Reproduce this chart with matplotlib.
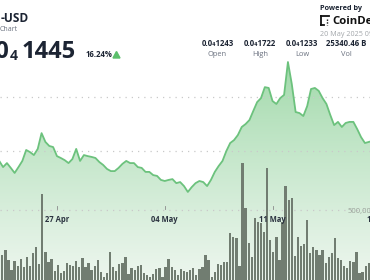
import numpy as np
import pandas as pd
import matplotlib
matplotlib.use("Agg")
import matplotlib.pyplot as plt
import matplotlib.dates as mdates
from matplotlib.lines import Line2D

# ============================
# SHIB-USD price chart (cropped CoinDesk card)
# ============================

plt.rcParams["font.family"] = ["Open Sans", "DejaVu Sans"]

# price, 6h steps, in units of 1e-8 USD (0.0₄1361 -> 1361)
price_e8 = [
    1361, 1338, 1353, 1335, 1316, 1338, 1361, 1402, 1394, 1383,
    1406, 1465, 1432, 1417, 1413, 1379, 1372, 1364, 1353, 1368,
    1406, 1361, 1383, 1379, 1376, 1372, 1357, 1346, 1331, 1323,
    1323, 1335, 1350, 1361, 1353, 1353, 1338, 1335, 1320, 1320,
    1308, 1305, 1290, 1286, 1290, 1293, 1278, 1282, 1267, 1245,
    1263, 1278, 1286, 1282, 1267, 1290, 1320, 1342, 1361, 1398,
    1428, 1439, 1458, 1488, 1499, 1514, 1548, 1581, 1596, 1637,
    1634, 1585, 1574, 1596, 1608, 1731, 1649, 1544, 1540, 1529,
    1566, 1630, 1634, 1623, 1596, 1574, 1533, 1495, 1507, 1488,
    1503, 1507, 1507, 1480, 1450, 1428, 1432, 1436,
]

# volume bars, in thousands
volume_k = [
    179, 214, 143, 71, 136, 100, 150, 93, 164, 100,
    193, 236, 114, 614, 200, 129, 150, 64, 107, 50,
    64, 121, 107, 100, 136, 93, 157, 93, 121, 71,
    100, 143, 57, 21, 50, 200, 93, 64, 114, 121,
    164, 43, 86, 71, 100, 107, 50, 36, 21, 43,
    79, 86, 21, 93, 150, 93, 71, 36, 79, 64,
    57, 71, 86, 36, 79, 93, 179, 143, 21, 57,
    114, 107, 129, 129, 336, 307, 300, 100, 836, 514,
    264, 164, 443, 414, 407, 343, 800, 286, 200, 307,
    143, 414, 671, 571, 586, 171, 307, 243, 257, 429,
    193, 236, 214, 179, 214, 121, 164, 193, 300, 157,
    143, 100, 86, 136, 129, 200, 50, 57, 100, 121,
]

date_labels = ["27 Apr", "04 May", "11 May", "18 May"]
date_ticks = pd.to_datetime(["2025-04-27", "2025-05-04", "2025-05-11", "2025-05-18"])

stat_values = ["0.0\u20841243", "0.0\u20841722", "0.0\u20841233", "25340.46 B"]
stat_names = ["Open", "High", "Low", "Vol"]

price_t = pd.date_range("2025-04-23 06:00", periods=len(price_e8), freq="6h")
vol_t = pd.date_range("2025-04-23 10:48", periods=len(volume_k), freq="288min")

W, H = 370, 280
fig = plt.figure(figsize=(W / 100, H / 100), dpi=100)
ax = fig.add_axes([0, 0, 1, 1])
ax2 = ax.twinx()

x0 = mdates.date2num(pd.Timestamp("2025-04-27"))
ymin, ymax = 915.7, 1962.9
for a in (ax, ax2):
    a.axis("off")

px = mdates.date2num(price_t)
py = np.array(price_e8, dtype=float)

# gradient area under the line
grad = np.linspace(0, 1, 256) ** 0.8
top = np.array([0.60, 0.84, 0.64])
bot = np.array([0.93, 0.965, 0.935])
rgb = top[None, :] * (1 - grad[:, None]) + bot[None, :] * grad[:, None]
img = rgb[:, None, :]
im = ax.imshow(img, extent=[px[0], px[-1], ymin, 1760], origin="upper",
               aspect="auto", zorder=1, interpolation="bilinear")
poly = ax.fill_between(px, py, ymin, facecolor="none", edgecolor="none")
im.set_clip_path(poly.get_paths()[0], transform=ax.transData)
ax.set_xlim(x0 - 3.70, x0 + 20.33)
ax.set_ylim(ymin, ymax)
ax2.set_ylim(0, 2000)

ax.plot(px, py, color="#6cc27d", lw=1.3, zorder=3, solid_joinstyle="round")

# dotted grid
for g in [1400, 1600]:
    ax.axhline(g, color="#c9c9c9", lw=0.9, ls=(0, (1, 4)), zorder=2)
ax2.axhline(500, color="#c9c9c9", lw=0.9, ls=(0, (1, 4)), zorder=1)

ax2.bar(mdates.date2num(vol_t), volume_k, width=0.15, color="#717d71",
        edgecolor="none", zorder=2)

# date labels
for d, lab in zip(date_ticks, date_labels):
    xd = mdates.date2num(d)
    ax2.text(xd, 1 - 222.5 / H, lab, transform=ax2.get_xaxis_transform(),
             ha="center", va="baseline", fontsize=5.5, fontweight="bold",
             color="#2b3340", zorder=5)
    ax2.plot([xd, xd], [1 - 206 / H, 1 - 209 / H], transform=ax2.get_xaxis_transform(),
             color="#8a8a8a", lw=0.6, zorder=5)

ax2.text(348 / W, 1 - 212.5 / H, "500,000", transform=ax2.transAxes,
         ha="left", va="baseline", fontsize=5.5, color="#9aa19a", zorder=5)


def T(x, y, s, **kw):
    kw.setdefault("va", "baseline")
    fig.text(x / W, 1 - y / H, s, **kw)


dark = "#1c2433"
T(0.5, 22, "-USD", fontsize=8.6, fontweight="bold", color=dark)
T(0, 31, "Chart", fontsize=5, color="#6b7280")
T(9, 58, "0.0", fontsize=17, fontweight="bold", color=dark, ha="right")
T(9.5, 59.5, "4", fontsize=10, fontweight="bold", color=dark)
T(21.5, 58, "1445", fontsize=17, fontweight="bold", color=dark)
T(86, 57, "16.24%", fontsize=5.6, fontweight="bold", color=dark)
fig.patches.append(plt.Polygon([[113 / W, 1 - 58 / H], [120 / W, 1 - 58 / H],
                                [116.5 / W, 1 - 51.5 / H]], closed=True,
                               transform=fig.transFigure, color="#5cbf6c"))

T(320, 9.5, "Powered by", fontsize=5.2, fontweight="bold", color=dark)
T(332, 24, "CoinDesk", fontsize=8.2, fontweight="bold", color="#111111")
T(320, 36, "20 May 2025 09:00", fontsize=5.2, color="#a3a7ab")
# logo glyph
for xs, ys, lw in [([321, 321], [15.5, 25], 1.3), ([321, 329], [15.5, 15.5], 1.3),
                   ([321, 324], [25, 25], 1.3), ([326.5, 326.5], [19, 25], 1.0)]:
    fig.add_artist(Line2D([v / W for v in xs], [1 - v / H for v in ys],
                          color="#111111", lw=lw, ls="-" if lw > 1.1 else (0, (1, 1))))

for cx, v, n in zip([217.5, 260, 302, 346], stat_values, stat_names):
    T(cx, 46.5, v, fontsize=5.6, fontweight="bold", color=dark, ha="center")
    T(cx, 56, n, fontsize=5.4, color="#6b7280", ha="center")

fig.savefig("out.png", dpi=100)
